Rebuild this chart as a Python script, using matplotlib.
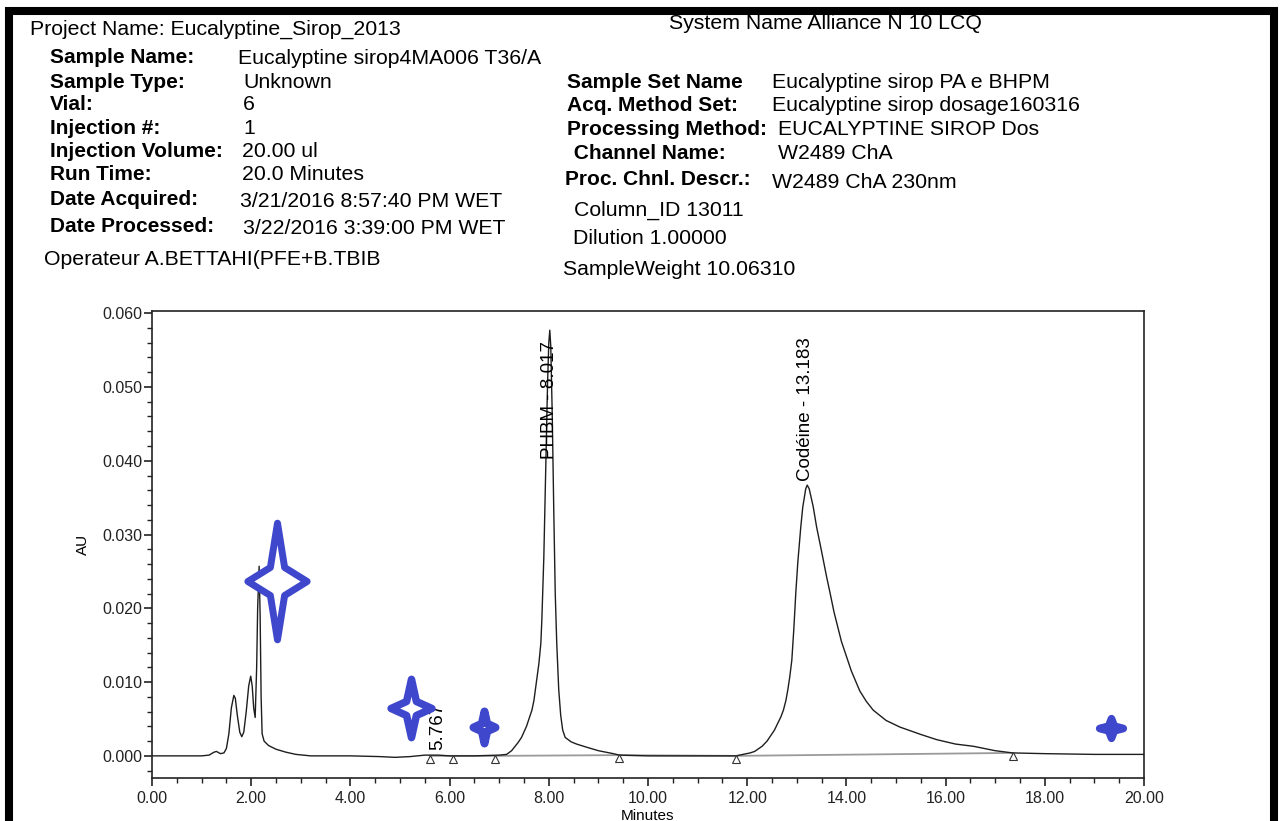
import numpy as np
import matplotlib
matplotlib.use("Agg")
import matplotlib.pyplot as plt
from matplotlib.path import Path
from matplotlib.markers import MarkerStyle
from matplotlib.patches import Rectangle
from matplotlib.ticker import MultipleLocator, FormatStrFormatter

plt.rcParams['font.family'] = ['Liberation Sans', 'DejaVu Sans']

# chromatogram trace (minutes, AU)
minutes = [0.00, 0.50, 1.00, 1.15, 1.25, 1.30, 1.38, 1.45, 1.50, 1.55,
           1.60, 1.65, 1.68, 1.72, 1.77, 1.81, 1.85, 1.90, 1.95, 1.99,
           2.02, 2.05, 2.08, 2.11, 2.13, 2.16, 2.18, 2.20, 2.22, 2.26,
           2.35, 2.50, 2.70, 2.90, 3.20, 4.00, 4.60, 4.90, 5.20, 5.50,
           5.77, 6.00, 6.50, 7.00, 7.15, 7.25, 7.38, 7.45, 7.55, 7.66,
           7.70, 7.75, 7.80, 7.84, 7.86, 7.90, 7.94, 7.975, 8.00, 8.02,
           8.04, 8.07, 8.10, 8.13, 8.16, 8.20, 8.24, 8.28, 8.33, 8.45,
           8.56, 8.75, 9.00, 9.30, 9.42, 10.00, 11.00, 11.77, 12.06, 12.15,
           12.30, 12.40, 12.46, 12.55, 12.60, 12.68, 12.73, 12.78, 12.82, 12.86,
           12.90, 12.94, 12.98, 13.02, 13.08, 13.12, 13.18, 13.21, 13.25, 13.33,
           13.40, 13.50, 13.60, 13.67, 13.75, 13.90, 14.00, 14.10, 14.27, 14.40,
           14.54, 14.80, 15.08, 15.50, 15.82, 16.20, 16.56, 17.00, 17.35, 18.00,
           19.00, 20.00]
au = [0.0000, 0.0000, 0.0000, 0.0001, 0.0005, 0.0006, 0.0003, 0.0004, 0.0010, 0.0030,
      0.0065, 0.0082, 0.0078, 0.0055, 0.0032, 0.0026, 0.0032, 0.0060, 0.0095, 0.0108,
      0.0095, 0.0065, 0.0052, 0.0120, 0.0200, 0.0257, 0.0190, 0.0080, 0.0030, 0.0020,
      0.0014, 0.0009, 0.0005, 0.0002, 0.0000, 0.0000, -0.0001, -0.0002, -0.0001, 0.0001,
      0.0001, 0.0000, 0.0000, 0.0001, 0.0002, 0.0007, 0.0018, 0.0025, 0.0040, 0.0062,
      0.0075, 0.0100, 0.0125, 0.0153, 0.0185, 0.0270, 0.0395, 0.0505, 0.0560, 0.0577,
      0.0555, 0.0460, 0.0333, 0.0220, 0.0153, 0.0090, 0.0055, 0.0035, 0.0025, 0.0019,
      0.0016, 0.0012, 0.0007, 0.0003, 0.0001, 0.0000, 0.0000, 0.0000, 0.0004, 0.0006,
      0.0013, 0.0020, 0.0026, 0.0035, 0.0042, 0.0053, 0.0062, 0.0075, 0.0090, 0.0108,
      0.0130, 0.0172, 0.0221, 0.0262, 0.0310, 0.0337, 0.0362, 0.0367, 0.0362, 0.0338,
      0.0310, 0.0277, 0.0243, 0.0221, 0.0195, 0.0155, 0.0135, 0.0115, 0.0088, 0.0074,
      0.0062, 0.0048, 0.0039, 0.0029, 0.0022, 0.0016, 0.0013, 0.0007, 0.0004, 0.0003,
      0.0002, 0.0002]

# integration baseline points (triangles)
base_t = [5.60, 6.06, 6.92, 9.42, 11.77, 17.35]
base_au = [0.0000, 0.0000, 0.0000, 0.0001, 0.0000, 0.0004]

# named peaks
peak_names = ["5.767", "PHBM - 8.017", "Codéine - 13.183"]
peak_rt = [5.767, 8.017, 13.183]

header_left = [
    ("Sample Name:", "Eucalyptine sirop4MA006 T36/A"),
    ("Sample Type:", "Unknown"),
    ("Vial:", "6"),
    ("Injection #:", "1"),
    ("Injection Volume:", "20.00 ul"),
    ("Run Time:", "20.0 Minutes"),
    ("Date Acquired:", "3/21/2016 8:57:40 PM WET"),
    ("Date Processed:", "3/22/2016 3:39:00 PM WET"),
]
header_right = [
    ("Sample Set Name", "Eucalyptine sirop PA e BHPM"),
    ("Acq. Method Set:", "Eucalyptine sirop dosage160316"),
    ("Processing Method:", "EUCALYPTINE SIROP Dos"),
    (" Channel Name:", "W2489 ChA"),
    ("Proc. Chnl. Descr.:", "W2489 ChA 230nm"),
]

W, H = 1280, 821
fig = plt.figure(figsize=(W / 100, H / 100), dpi=100)


def px(x, y):
    # pixel position (from top-left) -> figure fraction
    return x / W, 1 - y / H


vsize = 15.3   # plain header text
bsize = 15     # bold header labels
fig.text(*px(30, 35), "Project Name: Eucalyptine_Sirop_2013", fontsize=vsize, va="baseline")
fig.text(*px(669, 29), "System Name Alliance N 10 LCQ", fontsize=vsize, va="baseline")

left_rows = [63, 88, 110, 134, 157, 180, 205, 232]
left_vals = [(238, 64), (243, 88), (243, 110), (243, 134), (242, 157), (242, 180), (240, 207), (243, 234)]
for (lab, val), y, (vx, vy) in zip(header_left, left_rows, left_vals):
    fig.text(*px(50, y), lab, fontsize=bsize, fontweight="bold", va="baseline")
    fig.text(*px(vx, vy), val, fontsize=vsize, va="baseline")
fig.text(*px(44, 265), "Operateur A.BETTAHI(PFE+B.TBIB", fontsize=vsize, va="baseline")

right_rows = [(567, 88), (567, 111), (567, 135), (568, 159), (565, 185)]
right_vals = [(772, 88), (772, 111), (778, 135), (778, 159), (772, 188)]
for (lab, val), (lx, ly), (vx, vy) in zip(header_right, right_rows, right_vals):
    fig.text(*px(lx, ly), lab, fontsize=bsize, fontweight="bold", va="baseline")
    fig.text(*px(vx, vy), val, fontsize=vsize, va="baseline")
fig.text(*px(574, 216), "Column_ID 13011", fontsize=vsize, va="baseline")
fig.text(*px(573, 244), "Dilution 1.00000", fontsize=vsize, va="baseline")
fig.text(*px(563, 275), "SampleWeight 10.06310", fontsize=vsize, va="baseline")

# chromatogram axes
ax = fig.add_axes([152 / W, 1 - 778 / H, 992 / W, 467 / H])
ax.plot(minutes, au, color="#1e1e1e", lw=1.0, zorder=3)
ax.plot(base_t, base_au, color="#9a9a9a", lw=1.3, zorder=2)
ax.plot(base_t, np.array(base_au) - 0.0004, ls="none", marker="^", ms=6,
        mfc="white", mec="#333333", mew=0.8, zorder=4)

# peak labels, rotated like the Empower report
label_y = [0.0008, 0.0403, 0.0372]
for name, rt, ly in zip(peak_names, peak_rt, label_y):
    ax.text(rt, ly, name, rotation=90, ha="center", va="bottom", fontsize=13.5, zorder=5)

ax.set_xlim(0, 20)
ax.set_ylim(-0.003, 0.0603)
ax.xaxis.set_major_locator(MultipleLocator(2))
ax.xaxis.set_minor_locator(MultipleLocator(0.5))
ax.yaxis.set_major_locator(MultipleLocator(0.010))
ax.yaxis.set_minor_locator(MultipleLocator(0.002))
ax.xaxis.set_major_formatter(FormatStrFormatter("%.2f"))
ax.yaxis.set_major_formatter(FormatStrFormatter("%.3f"))
ax.tick_params(which="major", length=6, width=1.2, labelsize=11.5, colors="#222222")
ax.tick_params(which="minor", length=3.5, width=1.0, colors="#222222")
ax.tick_params(axis="y", which="major", pad=1)
ax.tick_params(axis="x", which="major", pad=3)
for s in ax.spines.values():
    s.set_linewidth(1.2)
    s.set_color("#222222")

ax.set_ylabel("AU", fontsize=11)
ax.yaxis.set_label_coords(-0.0625, 0.5)
ax.set_xlabel("Minutes", fontsize=11)
ax.xaxis.set_label_coords(0.5, -0.066)

# hand-drawn blue stars added on the printout
def star(w, h, f=0.24):
    verts = [(0, h), (f * w, f * h), (w, 0), (f * w, -f * h),
             (0, -h), (-f * w, -f * h), (-w, 0), (-f * w, f * h), (0, h)]
    return Path(verts, closed=True)


stars = [  # t, AU, half-width, half-height, marker size, edge width
    (2.52, 0.0237, 30, 59, 84, 5.0),
    (5.22, 0.0065, 21, 30, 42, 5.4),
    (6.69, 0.0039, 11, 16, 23, 5.8),
    (19.33, 0.0038, 12, 10, 17, 5.5),
]
for t, a, hw, hh, ms, mew in stars:
    m = MarkerStyle(star(hw, hh), joinstyle="round")
    ax.plot([t], [a], ls="none", marker=m, ms=ms, mfc="white",
            mec="#3F48CC", mew=mew, zorder=6)

# thick black page frame
frame = Rectangle((9 / W, -2 / H), 1265 / W, (H - 11 + 2) / H, transform=fig.transFigure,
                  fill=False, ec="black", lw=5.8, zorder=10)
fig.add_artist(frame)

fig.savefig("out.png", dpi=100)
